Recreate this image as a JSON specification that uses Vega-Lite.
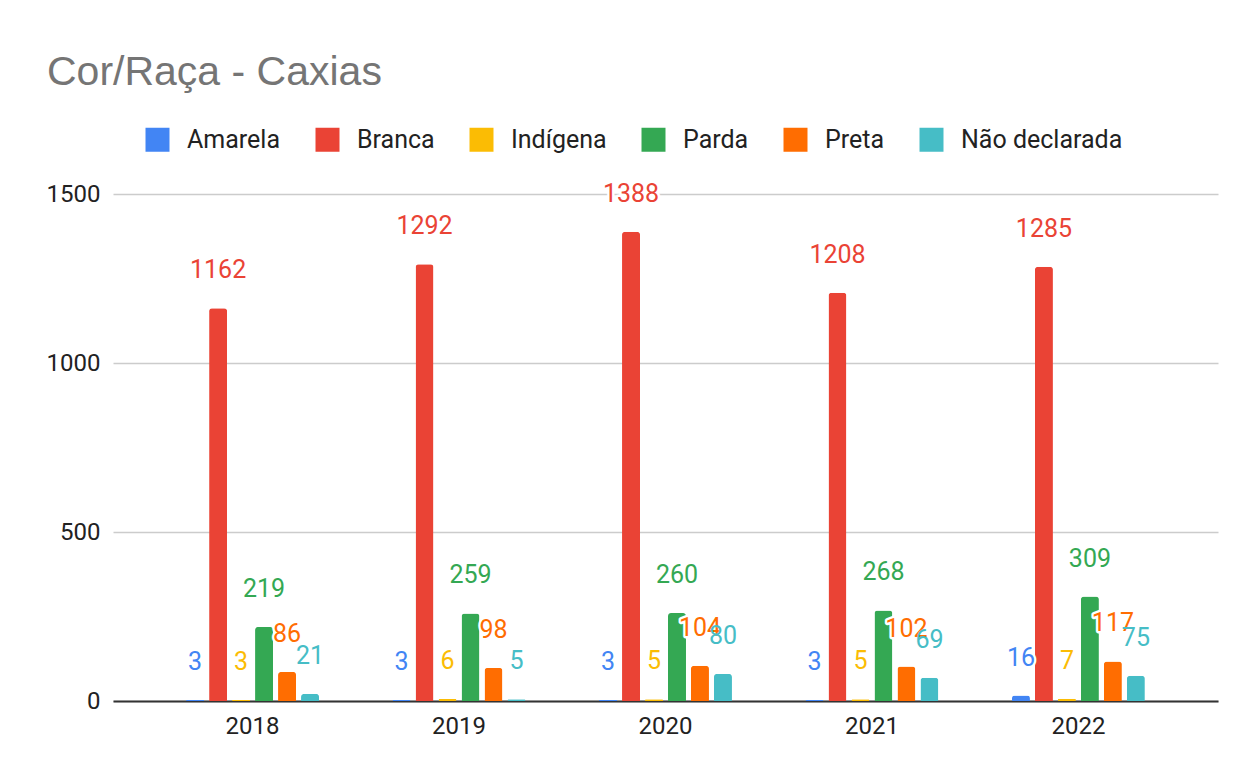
{
  "$schema": "https://vega.github.io/schema/vega-lite/v6.json",
  "width": 1105,
  "height": 507,
  "autosize": {"type": "none"},
  "padding": {"left": 113, "top": 194, "right": 29, "bottom": 75},
  "background": "white",
  "config": {"view": {"stroke": null}},
  "title": {
    "text": "Cor/Raça - Caxias",
    "anchor": "start",
    "frame": "group",
    "font": "Liberation Sans",
    "fontSize": 41,
    "fontWeight": "normal",
    "color": "#757575",
    "baseline": "bottom",
    "dx": -66,
    "offset": -8
  },
  "data": {
    "values": [
      {"ano": "2018", "cor": "Amarela", "valor": 3},
      {"ano": "2018", "cor": "Branca", "valor": 1162},
      {"ano": "2018", "cor": "Indígena", "valor": 3},
      {"ano": "2018", "cor": "Parda", "valor": 219},
      {"ano": "2018", "cor": "Preta", "valor": 86},
      {"ano": "2018", "cor": "Não declarada", "valor": 21},
      {"ano": "2019", "cor": "Amarela", "valor": 3},
      {"ano": "2019", "cor": "Branca", "valor": 1292},
      {"ano": "2019", "cor": "Indígena", "valor": 6},
      {"ano": "2019", "cor": "Parda", "valor": 259},
      {"ano": "2019", "cor": "Preta", "valor": 98},
      {"ano": "2019", "cor": "Não declarada", "valor": 5},
      {"ano": "2020", "cor": "Amarela", "valor": 3},
      {"ano": "2020", "cor": "Branca", "valor": 1388},
      {"ano": "2020", "cor": "Indígena", "valor": 5},
      {"ano": "2020", "cor": "Parda", "valor": 260},
      {"ano": "2020", "cor": "Preta", "valor": 104},
      {"ano": "2020", "cor": "Não declarada", "valor": 80},
      {"ano": "2021", "cor": "Amarela", "valor": 3},
      {"ano": "2021", "cor": "Branca", "valor": 1208},
      {"ano": "2021", "cor": "Indígena", "valor": 5},
      {"ano": "2021", "cor": "Parda", "valor": 268},
      {"ano": "2021", "cor": "Preta", "valor": 102},
      {"ano": "2021", "cor": "Não declarada", "valor": 69},
      {"ano": "2022", "cor": "Amarela", "valor": 16},
      {"ano": "2022", "cor": "Branca", "valor": 1285},
      {"ano": "2022", "cor": "Indígena", "valor": 7},
      {"ano": "2022", "cor": "Parda", "valor": 309},
      {"ano": "2022", "cor": "Preta", "valor": 117},
      {"ano": "2022", "cor": "Não declarada", "valor": 75}
    ]
  },
  "encoding": {
    "x": {
      "field": "ano",
      "type": "nominal",
      "scale": {"paddingInner": 0.332, "paddingOuter": 0.342},
      "axis": {
        "title": null,
        "labelAngle": 0,
        "labelFont": "Roboto",
        "labelFontSize": 24,
        "labelColor": "#222222",
        "labelPadding": 13,
        "ticks": false,
        "domain": true,
        "domainColor": "#333333",
        "domainWidth": 2,
        "grid": false
      }
    },
    "xOffset": {
      "field": "cor",
      "type": "nominal",
      "sort": ["Amarela", "Branca", "Indígena", "Parda", "Preta", "Não declarada"],
      "scale": {"paddingInner": 0.217, "paddingOuter": 0.1085}
    },
    "y": {
      "field": "valor",
      "type": "quantitative",
      "scale": {"domain": [0, 1500], "nice": false},
      "axis": {
        "title": null,
        "values": [0, 500, 1000, 1500],
        "format": "d",
        "labelFont": "Roboto",
        "labelFontSize": 24,
        "labelColor": "#222222",
        "labelPadding": 13,
        "ticks": false,
        "domain": false,
        "grid": true,
        "gridColor": "#cccccc",
        "gridWidth": 1.5
      }
    }
  },
  "layer": [
    {
      "mark": {"type": "bar", "cornerRadiusTopLeft": 3, "cornerRadiusTopRight": 3},
      "encoding": {
        "color": {
          "field": "cor",
          "type": "nominal",
          "sort": ["Amarela", "Branca", "Indígena", "Parda", "Preta", "Não declarada"],
          "scale": {
            "domain": ["Amarela", "Branca", "Indígena", "Parda", "Preta", "Não declarada"],
            "range": ["#4285F4", "#EA4335", "#FBBC04", "#34A853", "#FF6D01", "#46BDC6"]
          },
          "legend": {
            "title": null,
            "orient": "none",
            "direction": "horizontal",
            "columns": 6,
            "legendX": 32,
            "legendY": -67,
            "padding": 0,
            "symbolType": "square",
            "symbolSize": 576,
            "symbolStrokeWidth": 0,
            "symbolOpacity": 1,
            "labelFont": "Roboto",
            "labelFontSize": 25,
            "labelColor": "#222222",
            "labelOffset": 17,
            "columnPadding": 34,
            "labelLimit": 300
          }
        }
      }
    },
    {
      "mark": {
        "type": "text",
        "dy": -38,
        "baseline": "middle",
        "font": "Roboto",
        "fontSize": 25,
        "fill": "white",
        "stroke": "white",
        "strokeWidth": 5,
        "strokeJoin": "round"
      },
      "encoding": {"text": {"field": "valor", "type": "quantitative"}}
    },
    {
      "mark": {
        "type": "text",
        "dy": -38,
        "baseline": "middle",
        "font": "Roboto",
        "fontSize": 25
      },
      "encoding": {
        "text": {"field": "valor", "type": "quantitative"},
        "color": {
          "field": "cor",
          "type": "nominal",
          "sort": ["Amarela", "Branca", "Indígena", "Parda", "Preta", "Não declarada"]
        }
      }
    }
  ]
}
